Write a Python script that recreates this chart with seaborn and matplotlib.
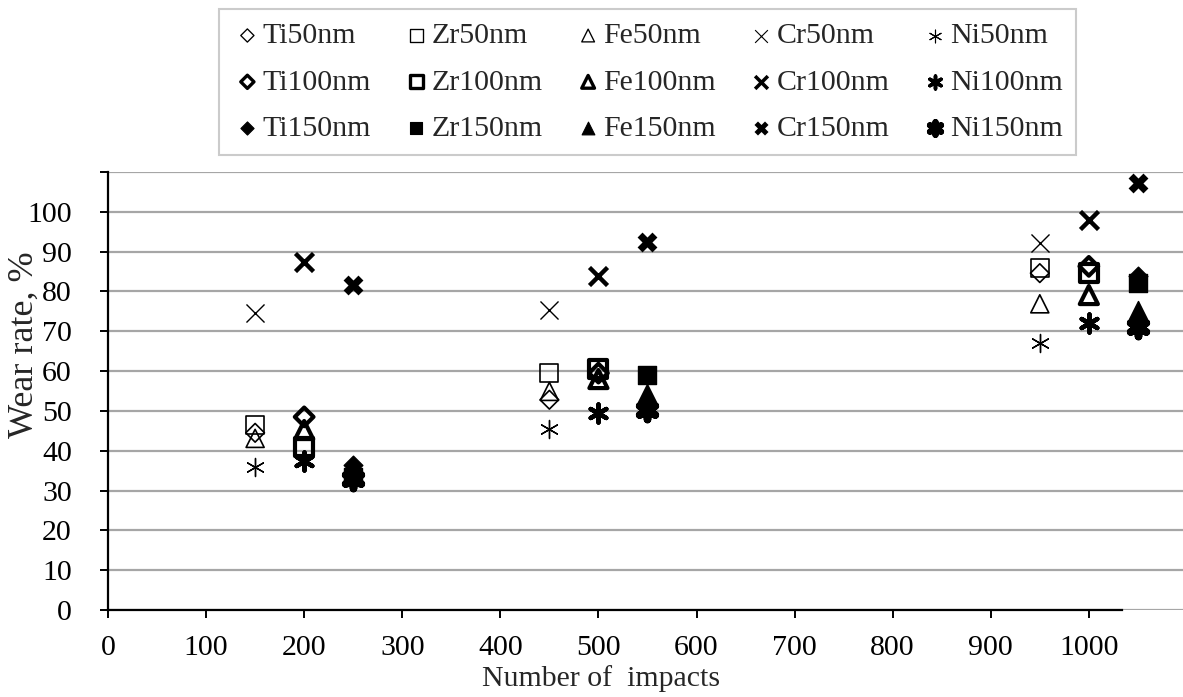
import numpy as np
import pandas as pd
import seaborn as sns
import matplotlib.pyplot as plt

sns.set_style("white")
plt.rcParams['font.family'] = ['Liberation Serif', 'DejaVu Serif']

### data

x50 = [150, 450, 950]
x100 = [200, 500, 1000]
x150 = [250, 550, 1050]

ti50 = [44.5, 52.8, 84.6]
zr50 = [46.4, 59.5, 85.9]
fe50 = [43.1, 54.9, 76.9]
cr50 = [74.5, 75.4, 92.1]
ni50 = [36.0, 45.4, 67.0]

ti100 = [48.5, 59.5, 86.3]
zr100 = [41.0, 60.5, 84.6]
fe100 = [45.2, 58.0, 79.1]
cr100 = [87.5, 83.8, 98.0]
ni100 = [37.3, 49.4, 72.0]

ti150 = [36.5, 52.0, 84.0]
zr150 = [33.5, 59.0, 82.0]
fe150 = [35.0, 54.5, 75.4]
cr150 = [81.7, 92.5, 107.2]
ni150 = [33.0, 50.2, 71.0]

y_ticks = list(range(0, 111, 10))
x_ticks = list(range(0, 1001, 100))

### marker styles per element / thickness
asterisk = (6, 2, 0)
elements = ['Ti', 'Zr', 'Fe', 'Cr', 'Ni']
markers = {'Ti': 'D', 'Zr': 's', 'Fe': '^', 'Cr': 'x', 'Ni': asterisk}
sizes = {'Ti': 9.5, 'Zr': 13, 'Fe': 13, 'Cr': 13, 'Ni': 13}

series = {
    ('Ti', 50): ti50, ('Zr', 50): zr50, ('Fe', 50): fe50, ('Cr', 50): cr50, ('Ni', 50): ni50,
    ('Ti', 100): ti100, ('Zr', 100): zr100, ('Fe', 100): fe100, ('Cr', 100): cr100, ('Ni', 100): ni100,
    ('Ti', 150): ti150, ('Zr', 150): zr150, ('Fe', 150): fe150, ('Cr', 150): cr150, ('Ni', 150): ni150,
}
xs = {50: x50, 100: x100, 150: x150}

FS = 21.5

fig = plt.figure(figsize=(11.83, 6.97), dpi=100)
ax = fig.add_axes([108 / 1183, 1 - 610 / 697, 1 - 108 / 1183, (610 - 172) / 697])

handles = []
for el in elements:
    for nm in (50, 100, 150):
        df = pd.DataFrame({'x': xs[nm], 'y': series[(el, nm)]})
        m = markers[el]
        ms = sizes[el]
        kw = dict(marker=m, s=ms ** 2, zorder=3, ax=ax, legend=False)
        if el in ('Cr', 'Ni'):
            if nm == 150 and el == 'Cr':
                kw.update(marker='X', s=(ms * 1.1) ** 2, color='black', linewidth=0)
            else:
                lw = {50: 1.0, 100: 3.2, 150: 5.5}[nm]
                kw.update(color='black', linewidth=lw)
        else:
            if nm == 150:
                kw.update(facecolor='black', edgecolor='black', linewidth=1)
            else:
                lw = {50: 1.2, 100: 3.0}[nm]
                kw.update(facecolor='none', edgecolor='black', linewidth=lw)
        sns.scatterplot(data=df, x='x', y='y', **kw)
        # proxy handle for the legend
        h = ax.scatter([], [], marker=kw['marker'], s=kw['s'] * 0.5,
                       facecolor=kw.get('facecolor', 'black'),
                       edgecolor=kw.get('edgecolor', 'black'),
                       linewidth=kw['linewidth'] * 0.8 if kw['linewidth'] else 0,
                       label=f'{el}{nm}nm')
        handles.append(h)

ax.set_xlim(0, 1096)
ax.set_ylim(0, 110)
ax.set_xticks(x_ticks)
ax.set_yticks(y_ticks)
ax.set_yticklabels([str(t) if t <= 100 else '' for t in y_ticks])
ax.yaxis.grid(True, color='#a6a6a6', linewidth=1.6, zorder=0)
ax.xaxis.grid(False)
ax.set_axisbelow(True)

for side in ('top', 'right'):
    ax.spines[side].set_visible(False)
for side in ('left', 'bottom'):
    ax.spines[side].set_color('black')
    ax.spines[side].set_linewidth(1.6)
ax.spines['bottom'].set_bounds(0, 1034)

ax.tick_params(axis='both', direction='out', length=6, width=1.4,
               color='black', labelsize=FS, labelcolor='black',
               left=True, bottom=True)
ax.tick_params(axis='x', pad=12)
ax.tick_params(axis='y', pad=20)

ax.set_xlabel('Number of  impacts', fontsize=FS)
ax.set_ylabel('Wear rate, %', fontsize=26)
ax.xaxis.set_label_coords(0.459, -0.125)
ax.yaxis.set_label_coords(-0.063, 0.605)

leg = fig.legend(handles=handles, ncol=5, loc='upper left',
                 bbox_to_anchor=(219 / 1183, 1 - 9 / 697, 857 / 1183, 0),
                 mode='expand', fontsize=FS, frameon=True, fancybox=False,
                 handletextpad=0.0, handlelength=1.0, labelspacing=0.65,
                 borderpad=0.45, borderaxespad=0)
leg.get_frame().set_edgecolor('#bfbfbf')
leg.get_frame().set_linewidth(1.5)

fig.savefig('out.png', dpi=100)
